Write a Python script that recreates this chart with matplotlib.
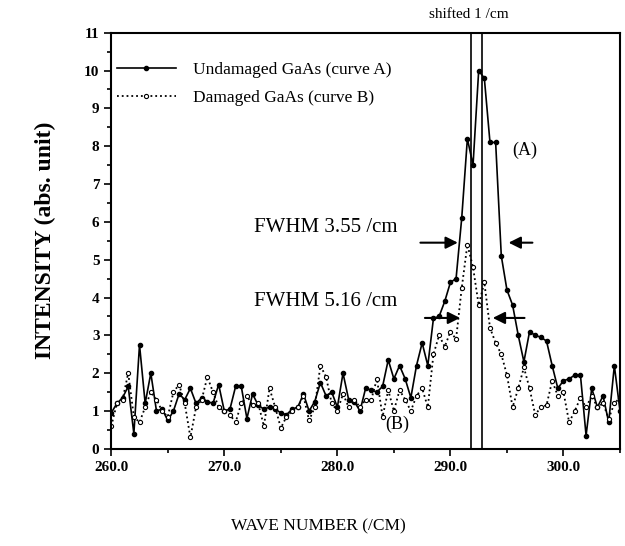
import numpy as np
import matplotlib
matplotlib.use("Agg")
import matplotlib.pyplot as plt
from matplotlib.ticker import MultipleLocator, FormatStrFormatter

plt.rcParams['font.family'] = ['Liberation Serif', 'DejaVu Serif']

# wave numbers (/cm), 0.5 step
wave = np.arange(260.0, 305.01, 0.5)

# curve A: undamaged GaAs
undamaged = [
    0.95, 1.2, 1.35, 1.65, 0.4, 2.75, 1.2, 2.0, 1.0, 1.05,
    0.75, 1.0, 1.45, 1.3, 1.6, 1.2, 1.35, 1.25, 1.2, 1.7,
    1.0, 1.05, 1.65, 1.65, 0.8, 1.45, 1.15, 1.05, 1.1, 1.05,
    0.95, 0.9, 1.05, 1.1, 1.45, 1.0, 1.25, 1.75, 1.4, 1.5,
    1.1, 2.0, 1.3, 1.25, 1.0, 1.6, 1.55, 1.5, 1.65, 2.35,
    1.85, 2.2, 1.85, 1.35, 2.2, 2.8, 2.2, 3.45, 3.5, 3.9,
    4.4, 4.5, 6.1, 8.2, 7.5, 10.0, 9.8, 8.1, 8.1, 5.1,
    4.2, 3.8, 3.0, 2.3, 3.1, 3.0, 2.95, 2.85, 2.2, 1.6,
    1.8, 1.85, 1.95, 1.95, 0.35, 1.6, 1.1, 1.4, 0.7, 2.2,
    1.0,
]

# curve B: damaged GaAs
damaged = [
    0.6, 1.2, 1.3, 2.0, 0.85, 0.7, 1.1, 1.5, 1.3, 1.0,
    0.85, 1.5, 1.7, 1.2, 0.3, 1.1, 1.3, 1.9, 1.5, 1.1,
    1.0, 0.9, 0.7, 1.2, 1.4, 1.15, 1.2, 0.6, 1.6, 1.1,
    0.55, 0.85, 1.0, 1.1, 1.4, 0.75, 1.1, 2.2, 1.9, 1.2,
    1.0, 1.45, 1.1, 1.3, 1.1, 1.3, 1.3, 1.85, 0.85, 1.55,
    1.0, 1.55, 1.3, 1.0, 1.4, 1.6, 1.1, 2.5, 3.0, 2.7,
    3.1, 2.9, 4.25, 5.4, 4.8, 3.8, 4.4, 3.2, 2.8, 2.5,
    1.95, 1.1, 1.6, 2.15, 1.6, 0.9, 1.1, 1.15, 1.8, 1.4,
    1.5, 0.7, 1.0, 1.35, 1.1, 1.4, 1.1, 1.2, 0.8, 1.2,
    1.35,
]

peak_lines = [291.8, 292.8]

fig = plt.figure(figsize=(6.25, 5.46), dpi=100)
ax = fig.add_axes([0.178, 0.178, 0.814, 0.762])

ax.plot(wave, undamaged, '-', color='black', lw=1.2, marker='o', ms=3,
        mfc='black', mec='black', label='Undamaged GaAs (curve A)')
ax.plot(wave, damaged, ':', color='black', lw=1.3, marker='o', ms=3,
        mfc='white', mec='black', mew=0.8, label='Damaged GaAs (curve B)')

for xv in peak_lines:
    ax.axvline(xv, color='black', lw=1.2)

ax.set_xlim(260, 305)
ax.set_ylim(0, 11)
ax.xaxis.set_major_locator(MultipleLocator(10))
ax.xaxis.set_minor_locator(MultipleLocator(5))
ax.xaxis.set_major_formatter(FormatStrFormatter('%.1f'))
ax.yaxis.set_major_locator(MultipleLocator(1))
ax.yaxis.set_minor_locator(MultipleLocator(0.5))
ax.tick_params(which='both', direction='out', width=1.2)
ax.tick_params(which='major', length=5, labelsize=11)
ax.tick_params(which='minor', length=3)
for lab in ax.get_xticklabels() + ax.get_yticklabels():
    lab.set_fontweight('bold')
for sp in ax.spines.values():
    sp.set_linewidth(1.5)

fig.text(0.51, 0.035, 'WAVE NUMBER (/CM)', fontsize=12.5, ha='center', va='center')
ax.set_ylabel('INTENSITY (abs. unit)', fontsize=17, fontweight='bold', labelpad=20)

ax.legend(loc='upper left', bbox_to_anchor=(-0.01, 0.955), frameon=False,
          fontsize=12.5, handlelength=3.4, handletextpad=1.0, labelspacing=0.7,
          numpoints=1, borderaxespad=0.2)

ax.text(296.6, 7.9, '(A)', fontsize=13, ha='center', va='center')
ax.text(285.3, 0.65, '(B)', fontsize=13, ha='center', va='center')
ax.text(285.3, 5.85, 'FWHM 3.55 /cm', fontsize=15, ha='right', va='center')
ax.text(285.3, 3.9, 'FWHM 5.16 /cm', fontsize=15, ha='right', va='center')

arrow = dict(arrowstyle='-|>', color='black', lw=1.5, mutation_scale=18)
ax.annotate('', xy=(290.9, 5.45), xytext=(287.1, 5.45), arrowprops=arrow)
ax.annotate('', xy=(294.9, 5.45), xytext=(297.5, 5.45), arrowprops=arrow)
ax.annotate('', xy=(291.1, 3.46), xytext=(287.5, 3.46), arrowprops=arrow)
ax.annotate('', xy=(293.5, 3.46), xytext=(296.8, 3.46), arrowprops=arrow)

fig.text(0.75, 0.973, 'shifted 1 /cm', fontsize=11, ha='center', va='center')

fig.savefig('out.png', dpi=100)
